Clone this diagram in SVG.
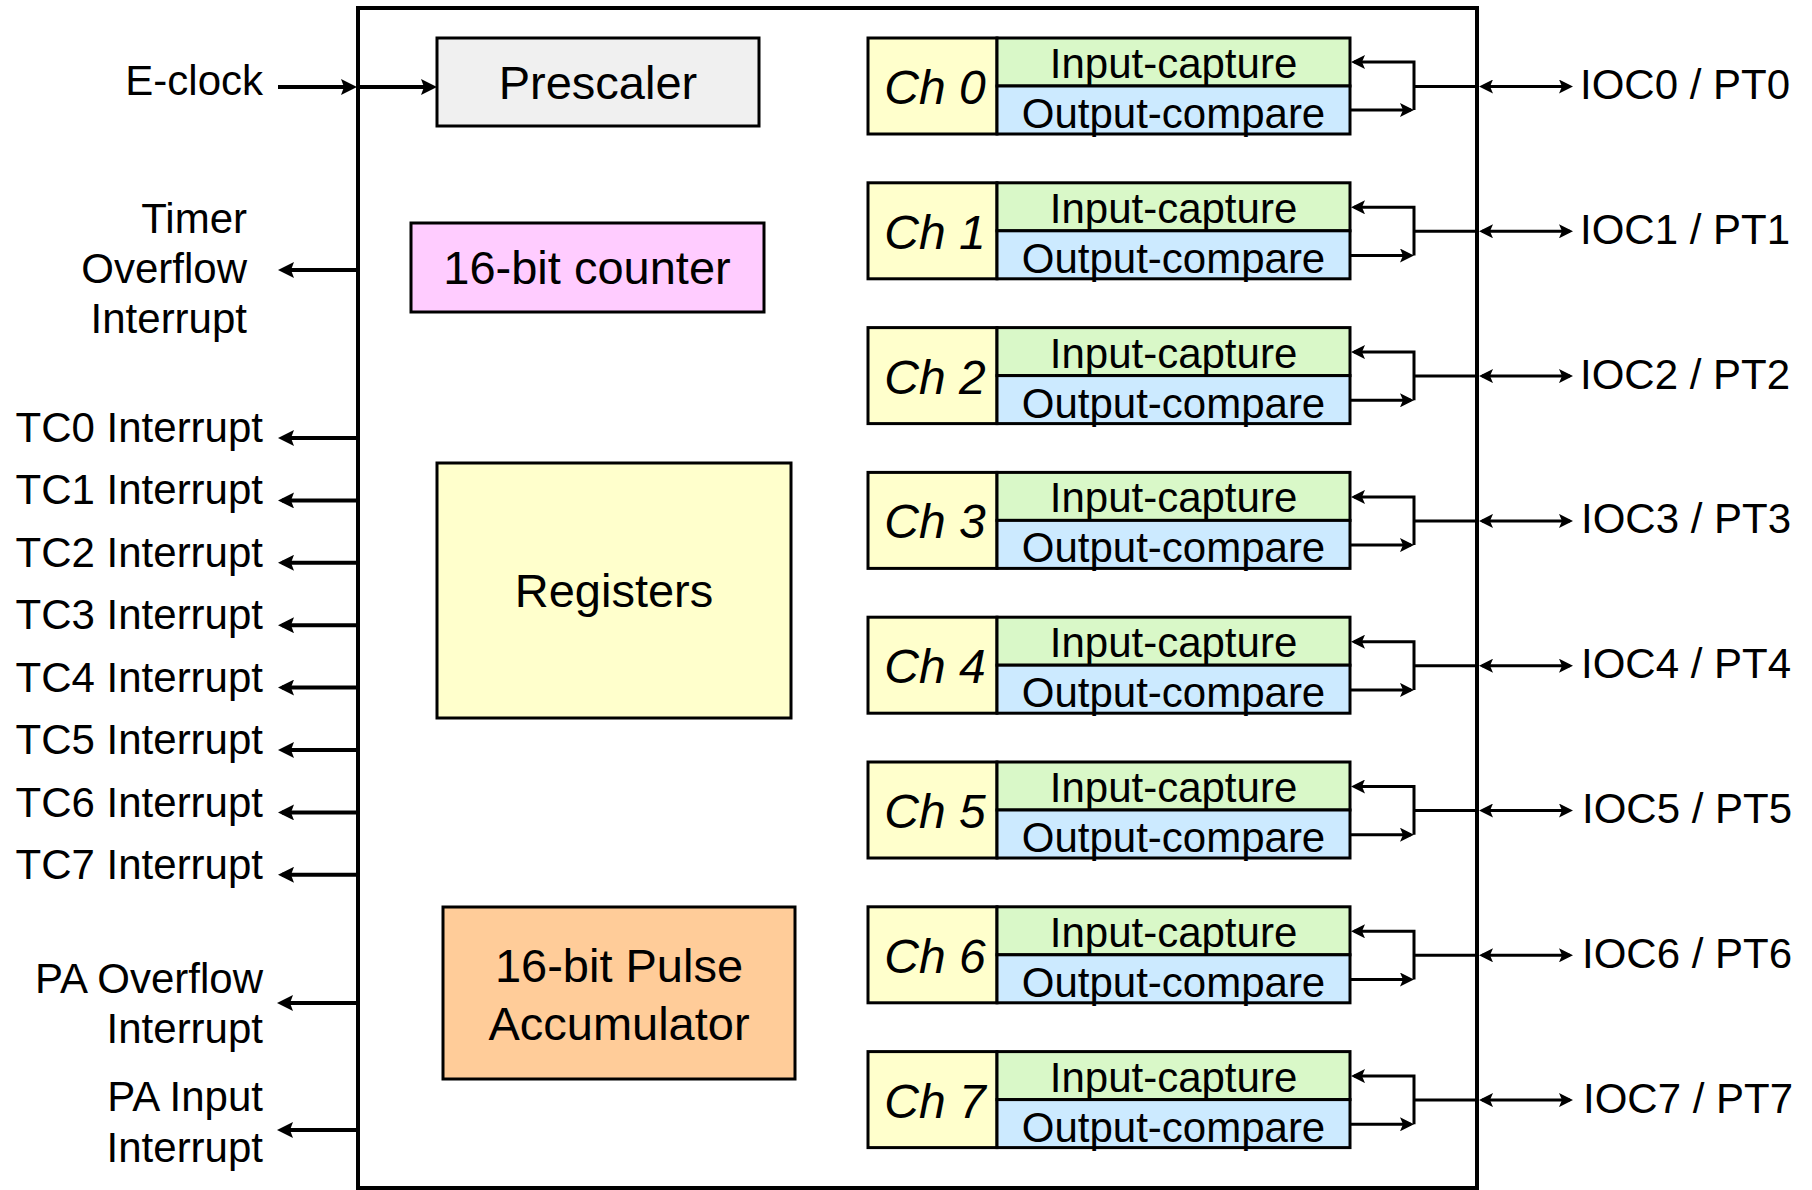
<svg xmlns="http://www.w3.org/2000/svg" width="1812" height="1190" viewBox="0 0 1812 1190">
<style>
text{font-family:"Liberation Sans",Arial,Helvetica,sans-serif;fill:#000}
.lbl{font-size:42px}
.big{font-size:47px}
.ch{font-size:48px;font-style:italic;text-anchor:middle}
.end{text-anchor:end}
.mid{text-anchor:middle}
.box{stroke:#000;stroke-width:3}
.ln{fill:none;stroke:#000;stroke-width:3}
.lnL{fill:none;stroke:#000;stroke-width:4}
.chl{fill:#ffffcc}
.ic{fill:#d9f8c8}
.oc{fill:#cceaff}
</style>
<defs>
<marker id="ah" viewBox="0 0 14 14" markerWidth="14" markerHeight="14" refX="11" refY="7" orient="auto-start-reverse" markerUnits="userSpaceOnUse">
<path d="M0,0 L14,7 L0,14 L3,7 z" fill="#000"/>
</marker>
<marker id="ahL" viewBox="0 0 16 16" markerWidth="16" markerHeight="16" refX="12" refY="8" orient="auto" markerUnits="userSpaceOnUse">
<path d="M0,0 L16,8 L0,16 L3,8 z" fill="#000"/>
</marker>
</defs>
<rect width="1812" height="1190" fill="#fff"/>
<g id="timer-module">
<rect x="358" y="8" width="1119" height="1180" fill="none" stroke="#000" stroke-width="4"/>
</g>
<g id="prescaler"><rect class="box" x="437" y="38" width="322" height="88" fill="#f0f0f0"/><text class="big mid" x="598" y="99">Prescaler</text></g>
<g id="counter"><rect class="box" x="411" y="223" width="353" height="89" fill="#ffccff"/><text class="big mid" x="587" y="284">16-bit counter</text></g>
<g id="registers"><rect class="box" x="437" y="463" width="354" height="255" fill="#ffffcc"/><text class="big mid" x="614" y="607">Registers</text></g>
<g id="pulse-acc"><rect class="box" x="443" y="907" width="352" height="172" fill="#ffcc99"/><text class="big mid" x="619" y="982">16-bit Pulse</text><text class="big mid" x="619" y="1040">Accumulator</text></g>

<g id="left-labels">
<text class="lbl end" x="263" y="95">E-clock</text>
<text class="lbl end" x="247" y="233">Timer</text>
<text class="lbl end" x="247" y="283">Overflow</text>
<text class="lbl end" x="247" y="333">Interrupt</text>
<text class="lbl end" x="263" y="442">TC0 Interrupt</text>
<text class="lbl end" x="263" y="504">TC1 Interrupt</text>
<text class="lbl end" x="263" y="567">TC2 Interrupt</text>
<text class="lbl end" x="263" y="629">TC3 Interrupt</text>
<text class="lbl end" x="263" y="692">TC4 Interrupt</text>
<text class="lbl end" x="263" y="754">TC5 Interrupt</text>
<text class="lbl end" x="263" y="817">TC6 Interrupt</text>
<text class="lbl end" x="263" y="879">TC7 Interrupt</text>
<text class="lbl end" x="263" y="993">PA Overflow</text>
<text class="lbl end" x="263" y="1043">Interrupt</text>
<text class="lbl end" x="263" y="1111">PA Input</text>
<text class="lbl end" x="263" y="1162">Interrupt</text>
</g>

<g id="ch0"><rect class="box chl" x="868" y="38" width="129" height="96"/><rect class="box ic" x="997" y="38" width="353" height="48"/><rect class="box oc" x="997" y="86" width="353" height="48"/><text class="ch" x="935" y="104">Ch 0</text><text class="lbl mid" x="1173.5" y="78">Input-capture</text><text class="lbl mid" x="1173.5" y="128">Output-compare</text><text class="lbl" x="1580" y="99">IOC0 / PT0</text></g>
<g id="ch1"><rect class="box chl" x="868" y="182.8" width="129" height="96"/><rect class="box ic" x="997" y="182.8" width="353" height="48"/><rect class="box oc" x="997" y="230.8" width="353" height="48"/><text class="ch" x="935" y="248.8">Ch 1</text><text class="lbl mid" x="1173.5" y="222.8">Input-capture</text><text class="lbl mid" x="1173.5" y="272.8">Output-compare</text><text class="lbl" x="1580" y="243.8">IOC1 / PT1</text></g>
<g id="ch2"><rect class="box chl" x="868" y="327.6" width="129" height="96"/><rect class="box ic" x="997" y="327.6" width="353" height="48"/><rect class="box oc" x="997" y="375.6" width="353" height="48"/><text class="ch" x="935" y="393.6">Ch 2</text><text class="lbl mid" x="1173.5" y="367.6">Input-capture</text><text class="lbl mid" x="1173.5" y="417.6">Output-compare</text><text class="lbl" x="1580" y="388.6">IOC2 / PT2</text></g>
<g id="ch3"><rect class="box chl" x="868" y="472.4" width="129" height="96"/><rect class="box ic" x="997" y="472.4" width="353" height="48"/><rect class="box oc" x="997" y="520.4" width="353" height="48"/><text class="ch" x="935" y="538.4">Ch 3</text><text class="lbl mid" x="1173.5" y="512.4">Input-capture</text><text class="lbl mid" x="1173.5" y="562.4">Output-compare</text><text class="lbl" x="1581" y="533.4">IOC3 / PT3</text></g>
<g id="ch4"><rect class="box chl" x="868" y="617.2" width="129" height="96"/><rect class="box ic" x="997" y="617.2" width="353" height="48"/><rect class="box oc" x="997" y="665.2" width="353" height="48"/><text class="ch" x="935" y="683.2">Ch 4</text><text class="lbl mid" x="1173.5" y="657.2">Input-capture</text><text class="lbl mid" x="1173.5" y="707.2">Output-compare</text><text class="lbl" x="1581" y="678.2">IOC4 / PT4</text></g>
<g id="ch5"><rect class="box chl" x="868" y="762" width="129" height="96"/><rect class="box ic" x="997" y="762" width="353" height="48"/><rect class="box oc" x="997" y="810" width="353" height="48"/><text class="ch" x="935" y="828">Ch 5</text><text class="lbl mid" x="1173.5" y="802">Input-capture</text><text class="lbl mid" x="1173.5" y="852">Output-compare</text><text class="lbl" x="1582" y="823">IOC5 / PT5</text></g>
<g id="ch6"><rect class="box chl" x="868" y="906.8" width="129" height="96"/><rect class="box ic" x="997" y="906.8" width="353" height="48"/><rect class="box oc" x="997" y="954.8" width="353" height="48"/><text class="ch" x="935" y="972.8">Ch 6</text><text class="lbl mid" x="1173.5" y="946.8">Input-capture</text><text class="lbl mid" x="1173.5" y="996.8">Output-compare</text><text class="lbl" x="1582" y="967.8">IOC6 / PT6</text></g>
<g id="ch7"><rect class="box chl" x="868" y="1051.6" width="129" height="96"/><rect class="box ic" x="997" y="1051.6" width="353" height="48"/><rect class="box oc" x="997" y="1099.6" width="353" height="48"/><text class="ch" x="935" y="1117.6">Ch 7</text><text class="lbl mid" x="1173.5" y="1091.6">Input-capture</text><text class="lbl mid" x="1173.5" y="1141.6">Output-compare</text><text class="lbl" x="1583" y="1112.6">IOC7 / PT7</text></g>

<g id="connectors">
<path class="lnL" marker-end="url(#ahL)" d="M278,87 H353"/>
<path class="lnL" marker-end="url(#ahL)" d="M358,87 H433"/>
<path class="lnL" marker-end="url(#ahL)" d="M358,270 H282"/>
<path class="lnL" marker-end="url(#ahL)" d="M358,438 H282"/>
<path class="lnL" marker-end="url(#ahL)" d="M358,500.4 H282"/>
<path class="lnL" marker-end="url(#ahL)" d="M358,562.8 H282"/>
<path class="lnL" marker-end="url(#ahL)" d="M358,625.2 H282"/>
<path class="lnL" marker-end="url(#ahL)" d="M358,687.6 H282"/>
<path class="lnL" marker-end="url(#ahL)" d="M358,750 H282"/>
<path class="lnL" marker-end="url(#ahL)" d="M358,812.4 H282"/>
<path class="lnL" marker-end="url(#ahL)" d="M358,874.8 H282"/>
<path class="lnL" marker-end="url(#ahL)" d="M358,1003 H281"/>
<path class="lnL" marker-end="url(#ahL)" d="M358,1130 H281"/>

<path class="ln" marker-end="url(#ah)" d="M1414,110 V62 H1354"/>
<path class="ln" marker-end="url(#ah)" d="M1351,110 H1411"/>
<path class="ln" d="M1414,86.5 H1478"/>
<path class="ln" marker-start="url(#ah)" marker-end="url(#ah)" d="M1482,86.5 H1570"/>

<path class="ln" marker-end="url(#ah)" d="M1414,255.5 V207.3 H1354"/>
<path class="ln" marker-end="url(#ah)" d="M1351,255.5 H1411"/>
<path class="ln" d="M1414,231.3 H1478"/>
<path class="ln" marker-start="url(#ah)" marker-end="url(#ah)" d="M1482,231.3 H1570"/>

<path class="ln" marker-end="url(#ah)" d="M1414,400.3 V352.1 H1354"/>
<path class="ln" marker-end="url(#ah)" d="M1351,400.3 H1411"/>
<path class="ln" d="M1414,376.1 H1478"/>
<path class="ln" marker-start="url(#ah)" marker-end="url(#ah)" d="M1482,376.1 H1570"/>

<path class="ln" marker-end="url(#ah)" d="M1414,545.1 V496.9 H1354"/>
<path class="ln" marker-end="url(#ah)" d="M1351,545.1 H1411"/>
<path class="ln" d="M1414,520.9 H1478"/>
<path class="ln" marker-start="url(#ah)" marker-end="url(#ah)" d="M1482,520.9 H1570"/>

<path class="ln" marker-end="url(#ah)" d="M1414,689.9 V641.7 H1354"/>
<path class="ln" marker-end="url(#ah)" d="M1351,689.9 H1411"/>
<path class="ln" d="M1414,665.7 H1478"/>
<path class="ln" marker-start="url(#ah)" marker-end="url(#ah)" d="M1482,665.7 H1570"/>

<path class="ln" marker-end="url(#ah)" d="M1414,834.7 V786.5 H1354"/>
<path class="ln" marker-end="url(#ah)" d="M1351,834.7 H1411"/>
<path class="ln" d="M1414,810.5 H1478"/>
<path class="ln" marker-start="url(#ah)" marker-end="url(#ah)" d="M1482,810.5 H1570"/>

<path class="ln" marker-end="url(#ah)" d="M1414,979.5 V931.3 H1354"/>
<path class="ln" marker-end="url(#ah)" d="M1351,979.5 H1411"/>
<path class="ln" d="M1414,955.3 H1478"/>
<path class="ln" marker-start="url(#ah)" marker-end="url(#ah)" d="M1482,955.3 H1570"/>

<path class="ln" marker-end="url(#ah)" d="M1414,1124.3 V1076.1 H1354"/>
<path class="ln" marker-end="url(#ah)" d="M1351,1124.3 H1411"/>
<path class="ln" d="M1414,1100.1 H1478"/>
<path class="ln" marker-start="url(#ah)" marker-end="url(#ah)" d="M1482,1100.1 H1570"/>
</g>
</svg>
